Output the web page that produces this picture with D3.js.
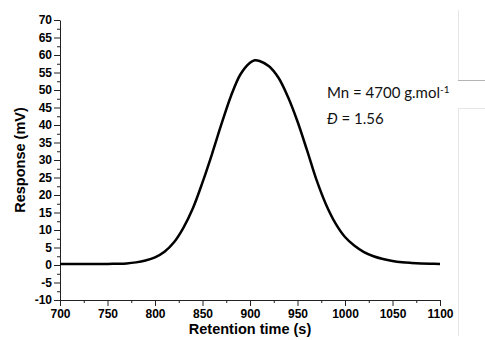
<!doctype html>
<meta charset="utf-8">
<head>
<script src="https://d3js.org/d3.v7.min.js"></script>
<style>
  body { margin: 0; background: #fff; }
</style>
</head>
<body>
<svg width="485" height="340"></svg>
<script>
    // retention time (s) and detector response (mV)
    let times = [700, 710, 720, 730, 740, 750, 760, 770, 780, 790,
                 800, 810, 820, 830, 840, 850, 860, 870, 880, 890,
                 900, 905, 910, 920, 930, 940, 950, 960, 970, 980,
                 990, 1000, 1010, 1020, 1030, 1040, 1050, 1060, 1070, 1080,
                 1090, 1100];
    let response = [0.3, 0.3, 0.3, 0.3, 0.3, 0.3, 0.35, 0.45, 0.75, 1.3,
                    2.2, 3.8, 6.5, 10.7, 16.3, 23.6, 31.7, 40.3, 48.3, 54.5,
                    57.8, 58.5, 58.3, 56.8, 53.5, 48.0, 41.0, 32.8, 24.3, 17.3,
                    11.9, 8.0, 5.5, 3.7, 2.5, 1.7, 1.15, 0.8, 0.6, 0.45,
                    0.35, 0.3];

    let xTicks = d3.range(700, 1101, 50);
    let xMinor = d3.range(725, 1100, 50);
    let yTicks = d3.range(-10, 71, 5);
    let yMinor = d3.range(-7.5, 70, 5);

    let svg = d3.select("svg");

    let x = d3.scaleLinear().domain([700, 1100]).range([60, 440]);
    let y = d3.scaleLinear().domain([-10, 70]).range([300, 20]);

    // leftover frame lines at the right edge of the original figure
    svg.append("path")
        .attr("d", "M458.5 10 V80 M458.5 108 V336 M458 108.5 H485")
        .attr("stroke", "#e6e6e6").attr("fill", "none");
    svg.append("path")
        .attr("d", "M458 80.5 H485")
        .attr("stroke", "#b4b4b4").attr("fill", "none");

    let tickFont = "'Liberation Sans', Arial, sans-serif";
    let plain = (d) => String(d);

    // x axis
    let gx = svg.append("g").attr("transform", "translate(0,300)");
    gx.call(d3.axisBottom(x).tickValues(xTicks).tickFormat(plain)
        .tickSize(6).tickSizeOuter(0).tickPadding(3));
    gx.append("g").call(d3.axisBottom(x).tickValues(xMinor).tickSize(3).tickFormat(""))
        .select(".domain").remove();

    // y axis
    let gy = svg.append("g").attr("transform", "translate(60,0)");
    gy.call(d3.axisLeft(y).tickValues(yTicks).tickFormat(plain)
        .tickSize(6).tickSizeOuter(0).tickPadding(2));
    gy.append("g").call(d3.axisLeft(y).tickValues(yMinor).tickSize(3).tickFormat(""))
        .select(".domain").remove();

    svg.selectAll(".tick text")
        .attr("font-family", tickFont)
        .attr("font-weight", "bold")
        .attr("font-size", "12px")
        .attr("fill", "#000");
    svg.selectAll(".domain, .tick line").attr("stroke", "#222");

    // curve
    let line = d3.line()
        .x((d, i) => x(times[i]))
        .y((d) => y(d))
        .curve(d3.curveCatmullRom.alpha(0.5));

    svg.append("path")
        .datum(response)
        .attr("fill", "none")
        .attr("stroke", "#000")
        .attr("stroke-width", 2.5)
        .attr("d", line);

    // axis titles
    svg.append("text")
        .attr("x", 250).attr("y", 334)
        .attr("text-anchor", "middle")
        .attr("font-family", tickFont).attr("font-weight", "bold")
        .attr("font-size", "14.5px")
        .text("Retention time (s)");

    svg.append("text")
        .attr("transform", "translate(25,160) rotate(-90)")
        .attr("text-anchor", "middle")
        .attr("font-family", tickFont).attr("font-weight", "bold")
        .attr("font-size", "14.5px")
        .text("Response (mV)");

    // annotation
    let note = svg.append("text")
        .attr("x", 327).attr("y", 98)
        .attr("font-family", "Lato, 'Open Sans', sans-serif")
        .attr("font-size", "15px")
        .attr("fill", "#111");
    note.append("tspan").text("Mn = 4700 g.mol");
    note.append("tspan").attr("font-size", "10px").attr("dy", -5).text("-1");

    let note2 = svg.append("text")
        .attr("x", 327).attr("y", 124)
        .attr("font-family", "Lato, 'Open Sans', sans-serif")
        .attr("font-size", "15px")
        .attr("fill", "#111");
    note2.append("tspan").attr("font-style", "italic").text("Đ");
    note2.append("tspan").text(" = 1.56");
</script>
</body>
